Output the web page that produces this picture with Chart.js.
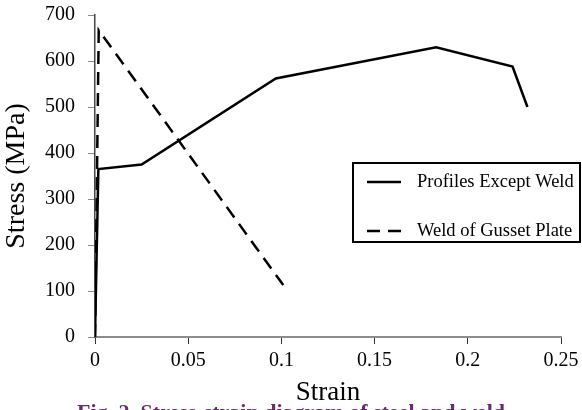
<!DOCTYPE html>
<html>
<head>
<meta charset="utf-8">
<script src="https://cdn.jsdelivr.net/npm/chart.js@4/dist/chart.umd.min.js"></script>
<style>
  html, body { margin: 0; padding: 0; background: #fff; }
  #wrap { width: 582px; height: 410px; position: relative; }
</style>
</head>
<body>
<div id="wrap"><canvas id="c" width="582" height="410"></canvas></div>
<script>
// ---- data ----
const profilesStrain = [0, 0.0018, 0.025, 0.097, 0.183, 0.224, 0.232];
const profilesStress = [0, 365, 375, 562, 630, 588, 500];
const weldStrain = [0, 0.002, 0.101];
const weldStress = [0, 667, 113];
const seriesLabels = ['Profiles Except Weld', 'Weld of Gusset Plate'];
const xTickValues = [0, 0.05, 0.1, 0.15, 0.2, 0.25];
const xTickLabels = ['0', '0.05', '0.1', '0.15', '0.2', '0.25'];
const yTickValues = [0, 100, 200, 300, 400, 500, 600, 700];
const yTickLabels = ['0', '100', '200', '300', '400', '500', '600', '700'];
const xTitle = 'Strain';
const yTitle = 'Stress (MPa)';
const caption = 'Fig. 2. Stress-strain diagram of steel and weld';

const toPoints = (xs, ys) => xs.map((x, i) => ({ x: x, y: ys[i] }));
const SERIF = '"Liberation Serif", "Times New Roman", serif';

const legendPlugin = {
  id: 'boxLegend',
  afterDraw(chart) {
    const ctx = chart.ctx;
    const bx = 353, by = 163, bw = 227, bh = 79;
    ctx.save();
    ctx.lineWidth = 2;
    ctx.strokeStyle = '#000';
    ctx.setLineDash([]);
    ctx.fillStyle = '#fff';
    ctx.fillRect(bx, by, bw, bh);
    ctx.strokeRect(bx, by, bw, bh);
    const rows = [182, 231];
    chart.data.datasets.forEach((ds, i) => {
      const y = rows[i];
      ctx.beginPath();
      ctx.lineWidth = 2.5;
      ctx.strokeStyle = ds.borderColor;
      ctx.setLineDash(ds.borderDash || []);
      ctx.moveTo(367, y);
      ctx.lineTo(401, y);
      ctx.stroke();
      ctx.setLineDash([]);
      ctx.fillStyle = '#000';
      ctx.font = '18.5px ' + SERIF;
      ctx.textBaseline = 'middle';
      ctx.textAlign = 'left';
      ctx.fillText(ds.label, 417, y);
    });
    // caption (cut off at the bottom like the reference)
    ctx.fillStyle = '#6b2a70';
    ctx.font = 'bold 22px ' + SERIF;
    ctx.textAlign = 'center';
    ctx.textBaseline = 'alphabetic';
    ctx.fillText(caption, 291, 419);
    ctx.restore();
  }
};

new Chart(document.getElementById('c'), {
  type: 'line',
  data: {
    datasets: [
      {
        label: seriesLabels[0],
        data: toPoints(profilesStrain, profilesStress),
        borderColor: '#000',
        borderWidth: 2.5,
        pointRadius: 0,
        tension: 0,
        fill: false
      },
      {
        label: seriesLabels[1],
        data: toPoints(weldStrain, weldStress),
        borderColor: '#000',
        borderWidth: 2.5,
        borderDash: [13, 8],
        pointRadius: 0,
        tension: 0,
        fill: false
      }
    ]
  },
  options: {
    responsive: false,
    animation: false,
    devicePixelRatio: 1,
    layout: { padding: { left: 0, right: 21, top: 15, bottom: 0 } },
    plugins: { legend: { display: false }, tooltip: { enabled: false } },
    scales: {
      x: {
        type: 'linear',
        min: 0,
        max: 0.25,
        afterBuildTicks(s) { s.ticks = xTickValues.map(v => ({ value: v })); },
        afterFit(s) { s.height = 73; s.paddingLeft = 0; s.paddingRight = 0; },
        ticks: {
          color: '#000',
          font: { family: SERIF, size: 20 },
          padding: 5,
          maxRotation: 0,
          autoSkip: false,
          callback: (v, i) => xTickLabels[i]
        },
        grid: { drawOnChartArea: false, drawTicks: true, tickLength: 7, color: '#333', lineWidth: 1 },
        border: { display: true, color: '#8c8c8c', width: 2 },
        title: {
          display: true,
          text: xTitle,
          color: '#000',
          font: { family: SERIF, size: 27 },
          padding: { top: 0, bottom: 1 }
        }
      },
      y: {
        type: 'linear',
        min: 0,
        max: 700,
        afterBuildTicks(s) { s.ticks = yTickValues.map(v => ({ value: v })); },
        afterFit(s) { s.width = 95; s.paddingTop = 0; s.paddingBottom = 0; },
        ticks: {
          color: '#000',
          font: { family: SERIF, size: 20 },
          padding: 13,
          autoSkip: false,
          callback: (v, i) => yTickLabels[i]
        },
        grid: { drawOnChartArea: false, drawTicks: true, tickLength: 7, color: '#8c8c8c', lineWidth: 1 },
        border: { display: true, color: '#444', width: 1.5 },
        title: {
          display: true,
          text: yTitle,
          color: '#000',
          font: { family: SERIF, size: 28 },
          padding: { top: 0, bottom: 0 }
        }
      }
    }
  },
  plugins: [legendPlugin]
});
</script>
</body>
</html>
